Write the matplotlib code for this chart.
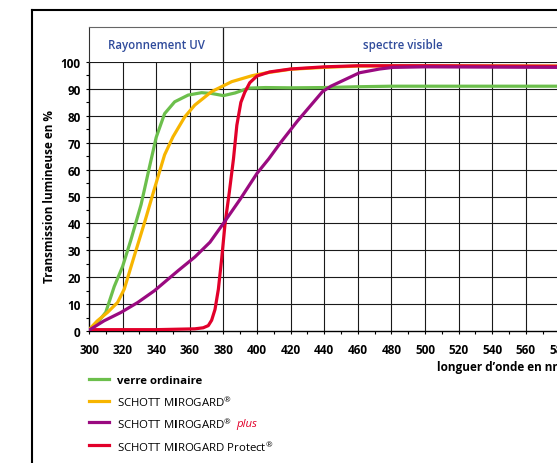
import matplotlib
matplotlib.use('Agg')
import matplotlib.pyplot as plt
from matplotlib.lines import Line2D
from matplotlib.ticker import MultipleLocator

plt.rcParams['font.family'] = ['Open Sans', 'DejaVu Sans']
plt.rcParams['mathtext.fontset'] = 'custom'
plt.rcParams['mathtext.rm'] = 'Open Sans'
plt.rcParams['mathtext.bf'] = 'Open Sans:bold'
plt.rcParams['mathtext.it'] = 'Open Sans:italic'
plt.rcParams['mathtext.default'] = 'regular'

# values
wl_verre = [300, 305, 310, 315, 320, 325, 331, 336, 340, 345, 351, 359, 367, 373, 380, 387, 395,
            405, 420, 440, 460, 480, 500, 540, 580, 620]
t_verre = [0.5, 3, 7, 16.5, 24, 34, 47, 61, 72, 80.8, 85.2, 87.7, 88.6, 88.3, 87.5, 88.5, 90.3,
           90.5, 90.4, 90.5, 90.8, 91, 91, 91, 91, 91]

wl_mirogard = [300, 305, 311, 317, 321, 327, 333, 339, 345, 350, 357, 363, 373, 385, 397, 405,
               420, 440, 460, 500, 580, 620]
t_mirogard = [0.5, 3.8, 6.9, 10.6, 15.6, 28, 40.2, 53, 65.5, 72.2, 79.6, 84, 89, 92.7, 94.9, 95.9,
              97.3, 98, 98.5, 98.6, 98.5, 98.5]

wl_plus = [300, 309, 319, 329, 339, 353, 363, 372, 380, 390, 400, 407, 414, 424, 439, 444, 461,
           473, 481, 500, 540, 580, 620]
t_plus = [0.3, 3.8, 6.9, 10.6, 15, 22.4, 27.5, 33, 40, 49, 58.6, 64, 70, 78, 89, 91, 96,
          97.4, 98, 98.2, 98.1, 98, 98]

wl_protect = [300, 340, 363, 368, 371, 373, 375, 377, 379, 381, 383.5, 386, 388, 390.4, 392.7,
              395.7, 400, 407.5, 420, 440, 460, 500, 580, 620]
t_protect = [0.5, 0.5, 0.8, 1.2, 2, 4, 8, 15.5, 27, 40, 51.5, 64, 76.5, 85, 88.7,
             92.3, 94.8, 96.3, 97.4, 98.2, 98.6, 98.6, 98.4, 98.4]

x_ticks = list(range(300, 620, 20))
y_ticks = list(range(0, 110, 10))

c_verre = '#6cbf4c'
c_mirogard = '#f7b500'
c_plus = '#9a0a80'
c_protect = '#e2002a'
c_blue = '#2f4b9b'

W, H = 557, 464
fig = plt.figure(figsize=(W / 100, H / 100), dpi=100)

def px(x0, y0, x1, y1):
    # pixel box (top-left origin) -> figure fraction rect
    return [x0 / W, 1 - y1 / H, (x1 - x0) / W, (y1 - y0) / H]

x_end = 620  # axis keeps going past the cut edge
ax = fig.add_axes(px(89, 63, 89 + (x_end - 300) * 1.68, 332))

for x in x_ticks[1:]:
    ax.axvline(x, color='#1a1a1a', lw=0.8, zorder=1)
for y in y_ticks[1:]:
    ax.axhline(y, color='#1a1a1a', lw=0.8, zorder=1)

ax.plot(wl_verre, t_verre, color=c_verre, lw=2.3, zorder=3, solid_capstyle='butt')
ax.plot(wl_mirogard, t_mirogard, color=c_mirogard, lw=2.3, zorder=4, solid_capstyle='butt')
ax.plot(wl_protect, t_protect, color=c_protect, lw=2.3, zorder=5, solid_capstyle='butt')
ax.plot(wl_plus, t_plus, color=c_plus, lw=2.3, zorder=6, solid_capstyle='butt')

for s in ['top', 'right']:
    ax.spines[s].set_visible(False)
for s in ['left', 'bottom']:
    ax.spines[s].set_linewidth(1.0)

ax.set_xticks(x_ticks)
ax.set_yticks(y_ticks)
ax.xaxis.set_minor_locator(MultipleLocator(10))
ax.yaxis.set_minor_locator(MultipleLocator(5))
ax.set_xlim(300, x_end)
ax.set_ylim(0, 100)
ax.tick_params(which='both', direction='out', length=2.5, width=0.8, labelsize=8.5)
ax.tick_params(axis='x', pad=6)
ax.tick_params(axis='y', pad=3.5)
for lbl in ax.get_xticklabels() + ax.get_yticklabels():
    lbl.set_fontweight('bold')

# header band
hx = fig.add_axes(px(89, 28, 89 + (x_end - 300) * 1.68, 63))
hx.set_xlim(300, x_end)
hx.set_ylim(0, 1)
hx.set_xticks([])
hx.set_yticks([])
for s in ['right', 'bottom']:
    hx.spines[s].set_visible(False)
hx.spines['top'].set_color('#666666')
hx.spines['left'].set_color('#333333')
hx.axvline(380, color='#1a1a1a', lw=0.9)
hx.text(340, 0.5, 'Rayonnement UV', color=c_blue, fontsize=8.3, fontweight='semibold',
        ha='center', va='center')
hx.text(487, 0.5, 'spectre visible', color=c_blue, fontsize=8.3, fontweight='semibold',
        ha='center', va='center')

fig.text(50 / W, 1 - 197 / H, 'Transmission lumineuse en %', rotation=90, fontsize=8.5,
         fontweight='bold', ha='center', va='center')
fig.text(437 / W, 1 - 368 / H, 'longuer d\u2019onde en nm', fontsize=8.5, fontweight='bold',
         ha='left', va='center')

# outer frame
fig.add_artist(Line2D([32 / W, 32 / W], [0, 1 - 11 / H], color='black', lw=1.5))
fig.add_artist(Line2D([32 / W, 1], [1 - 11 / H, 1 - 11 / H], color='black', lw=1.5))

# legend
reg = '\u00ae'
leg_y = [380, 401.7, 423.3, 446]
leg_c = [c_verre, c_mirogard, c_plus, c_protect]
leg_t = ['verre ordinaire',
         'SCHOTT M$\\mathbf{I}$ROGARD$^{' + reg + '}$',
         'SCHOTT M$\\mathbf{I}$ROGARD$^{' + reg + '}$',
         'SCHOTT M$\\mathbf{I}$ROGARD Protect$^{' + reg + '}$']
plus_txt = None
for i, (y, c, t) in enumerate(zip(leg_y, leg_c, leg_t)):
    fy = 1 - y / H
    fig.add_artist(Line2D([89 / W, 109 / W], [fy, fy], color=c, lw=2.3))
    tx = fig.text(117 / W, fy, t, fontsize=8.2, fontweight='bold' if i == 0 else 'normal',
                  ha='left', va='center_baseline')
    if i == 2:
        plus_txt = tx

fig.canvas.draw()
bb = plus_txt.get_window_extent()
fig.text((bb.x1 + 4) / W, 1 - leg_y[2] / H, 'plus', fontsize=8.2, style='italic',
         color=c_protect, ha='left', va='center_baseline')

fig.savefig('out.png', dpi=100)
